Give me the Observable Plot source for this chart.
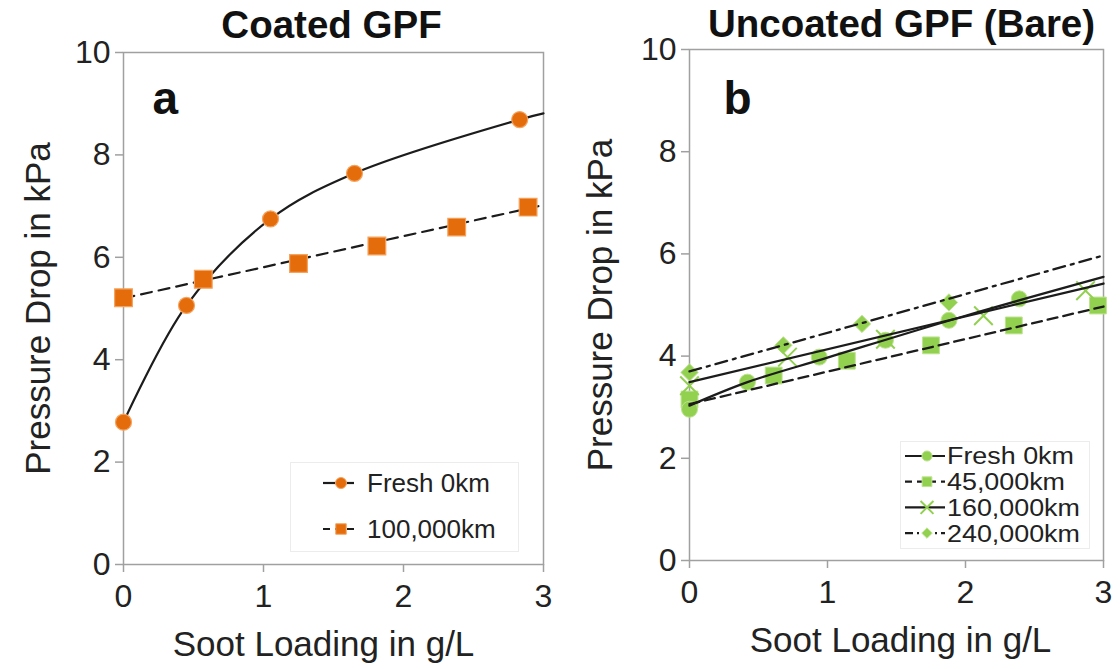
<!DOCTYPE html>
<html>
<head>
<meta charset="utf-8">
<script src="https://cdn.jsdelivr.net/npm/d3@7"></script>
<script src="https://cdn.jsdelivr.net/npm/@observablehq/plot@0.6"></script>
<style>
  body { margin: 0; background: #fff; }
  #wrap { position: relative; width: 1120px; height: 669px; overflow: hidden; font-family: "Liberation Sans", Arial, sans-serif; }
  .panel { position: absolute; top: 0; }
  .legend { position: absolute; }
</style>
</head>
<body>
<div id="wrap"></div>
<script>
// ---------- Data ----------
// Panel a: Coated GPF
const aFreshX = [0, 0.45, 1.05, 1.65, 2.83];
const aFreshY = [2.78, 5.06, 6.75, 7.64, 8.69];
const a100kX = [0, 0.57, 1.25, 1.81, 2.38, 2.89];
const a100kY = [5.21, 5.57, 5.88, 6.22, 6.59, 6.98];
// trend lines of panel a
const aFreshTrendX = [0, 0.45, 1.05, 1.65, 2.83, 3];
const aFreshTrendY = [2.78, 5.06, 6.75, 7.64, 8.69, 8.81];
const a100kTrendX = [0, 3];
const a100kTrendY = [5.2, 7.02];

// Panel b: Uncoated GPF (Bare)
const bFreshX = [0, 0.42, 0.94, 1.42, 1.88, 2.39];
const bFreshY = [2.96, 3.49, 3.98, 4.31, 4.70, 5.12];
const b45kX = [0, 0.61, 1.14, 1.75, 2.35, 2.96];
const b45kY = [3.15, 3.62, 3.91, 4.21, 4.60, 4.99];
const b160kX = [0, 0.71, 1.42, 2.13, 2.87];
const b160kY = [3.42, 3.98, 4.33, 4.79, 5.28];
const b240kX = [0, 0.68, 1.25, 1.88];
const b240kY = [3.68, 4.21, 4.63, 5.05];
// trend lines of panel b
const bFreshTrendX = [0, 0.42, 1, 2, 3];
const bFreshTrendY = [3.03, 3.49, 3.97, 4.79, 5.55];
const b45kTrendX = [0, 3];
const b45kTrendY = [3.06, 4.97];
const b160kTrendX = [0, 3];
const b160kTrendY = [3.49, 5.42];
const b240kTrendX = [0, 3];
const b240kTrendY = [3.70, 5.97];

const xTicks = [0, 1, 2, 3];
const yTicks = [0, 2, 4, 6, 8, 10];
const titles = ["Coated GPF", "Uncoated GPF (Bare)"];
const panelLetters = ["a", "b"];
const xLabel = "Soot Loading in g/L";
const yLabel = "Pressure Drop in kPa";
const legendA = ["Fresh 0km", "100,000km"];
const legendB = ["Fresh 0km", "45,000km", "160,000km", "240,000km"];

// ---------- Styles ----------
const FONT = '"Liberation Sans", Arial, sans-serif';
const ORANGE = "#E46C0A", ORANGE_EDGE = "#F5A35E";
const GREEN = "#92D050", GREEN_EDGE = "#BDE38F";
const INK = "#1c1c1c", AXIS = "#a0a0a0";

const zip = (xs, ys) => xs.map((x, i) => ({x, y: ys[i]}));

function basePanel({marginLeft, marginTop, marginBottom, title, letter, titleDx, titleDy, letterDx, letterDy, yLabelDx, xLabelDx, marks}) {
  return Plot.plot({
    width: 560, height: 669,
    marginLeft, marginRight: 17, marginTop, marginBottom,
    x: {domain: [0, 3]},
    y: {domain: [0, 10]},
    style: {fontFamily: FONT, fontSize: "32px", color: "#222", background: "transparent", overflow: "visible"},
    marks: [
      Plot.frame({stroke: AXIS, strokeWidth: 1.5}),
      Plot.axisY({ticks: yTicks, tickFormat: d => String(d), tickSize: 8, tickPadding: 5, stroke: AXIS, strokeWidth: 1.5, fill: "#222", label: null, fontSize: 32}),
      Plot.axisX({ticks: xTicks, tickFormat: d => String(d), tickSize: 8, tickPadding: 12, stroke: AXIS, strokeWidth: 1.5, fill: "#222", label: null, fontSize: 32}),
      Plot.text([yLabel], {frameAnchor: "left", textAnchor: "middle", dx: yLabelDx, rotate: -90, fontSize: 35, fill: "#222"}),
      Plot.text([xLabel], {frameAnchor: "bottom", textAnchor: "middle", dx: xLabelDx, dy: 91, fontSize: 35, fill: "#222"}),
      Plot.text([title], {frameAnchor: "top", textAnchor: "middle", dx: titleDx, dy: titleDy, fontSize: 38.5, fontWeight: "bold", fill: "#111"}),
      Plot.text([letter], {frameAnchor: "top-left", textAnchor: "start", dx: letterDx, dy: letterDy, fontSize: 46, fontWeight: "bold", fill: "#111"}),
      ...marks
    ]
  });
}

const wrap = document.getElementById("wrap");

// Panel a
const plotA = basePanel({
  marginLeft: 123, marginTop: 52, marginBottom: 105,
  title: titles[0], letter: panelLetters[0],
  titleDx: -2, titleDy: -42, letterDx: 29, letterDy: 29,
  yLabelDx: -85, xLabelDx: -10,
  marks: [
    Plot.line(zip(a100kTrendX, a100kTrendY), {x: "x", y: "y", stroke: INK, strokeWidth: 2.2, strokeDasharray: "11,7"}),
    Plot.line(zip(aFreshTrendX, aFreshTrendY), {x: "x", y: "y", stroke: INK, strokeWidth: 2.2, curve: "catmull-rom"}),
    Plot.dot(zip(a100kX, a100kY), {x: "x", y: "y", symbol: "square", r: 10, fill: ORANGE, stroke: ORANGE_EDGE, strokeWidth: 1.2}),
    Plot.dot(zip(aFreshX, aFreshY), {x: "x", y: "y", symbol: "circle", r: 8, fill: ORANGE, stroke: ORANGE_EDGE, strokeWidth: 1.2})
  ]
});
plotA.classList.add("panel");
plotA.style.left = "0px";
wrap.appendChild(plotA);

// Panel b
const plotB = basePanel({
  marginLeft: 129, marginTop: 49, marginBottom: 109,
  title: titles[1], letter: panelLetters[1],
  titleDx: 5, titleDy: -40, letterDx: 34, letterDy: 32,
  yLabelDx: -89, xLabelDx: 4,
  marks: [
    Plot.dot(zip(b45kX, b45kY), {x: "x", y: "y", symbol: "square", r: 9.5, fill: GREEN, stroke: GREEN_EDGE, strokeWidth: 1}),
    Plot.dot(zip(bFreshX, bFreshY), {x: "x", y: "y", symbol: "circle", r: 8, fill: GREEN, stroke: GREEN_EDGE, strokeWidth: 1}),
    Plot.dot(zip(b240kX, b240kY), {x: "x", y: "y", symbol: "diamond2", r: 7.8, fill: GREEN, stroke: GREEN_EDGE, strokeWidth: 1}),
    Plot.dot(zip(b160kX, b160kY), {x: "x", y: "y", symbol: "times", r: 8.5, stroke: GREEN, strokeWidth: 2}),
    Plot.line(zip(b240kTrendX, b240kTrendY), {x: "x", y: "y", stroke: INK, strokeWidth: 2.3, strokeDasharray: "12,6,3,6"}),
    Plot.line(zip(b45kTrendX, b45kTrendY), {x: "x", y: "y", stroke: INK, strokeWidth: 2.3, strokeDasharray: "10,6"}),
    Plot.line(zip(b160kTrendX, b160kTrendY), {x: "x", y: "y", stroke: INK, strokeWidth: 2.3}),
    Plot.line(zip(bFreshTrendX, bFreshTrendY), {x: "x", y: "y", stroke: INK, strokeWidth: 2.3, curve: "catmull-rom"})
  ]
});
plotB.classList.add("panel");
plotB.style.left = "560px";
wrap.appendChild(plotB);

// ---------- Legends ----------
function legend({left, top, width, height, items, rowStart, rowStep, lineX0, lineX1, markX, textX, fontSize, stretch}) {
  const svg = d3.select(wrap).append("svg")
    .attr("class", "legend")
    .style("left", left + "px").style("top", top + "px")
    .attr("width", width).attr("height", height)
    .style("font-family", FONT);
  svg.append("rect").attr("x", 0.5).attr("y", 0.5).attr("width", width - 1).attr("height", height - 1)
    .attr("fill", "#fff").attr("stroke", "#ececec");
  items.forEach((it, i) => {
    const y = rowStart + i * rowStep;
    svg.append("line").attr("x1", lineX0).attr("x2", lineX1).attr("y1", y).attr("y2", y)
      .attr("stroke", INK).attr("stroke-width", 2.2).attr("stroke-dasharray", it.dash || null);
    const path = d3.symbol(it.symbol, it.size)();
    const p = svg.append("path").attr("d", path).attr("transform", `translate(${markX},${y})`);
    if (it.hollow) p.attr("fill", "none").attr("stroke", it.color).attr("stroke-width", 2);
    else p.attr("fill", it.color).attr("stroke", it.edge).attr("stroke-width", 1);
    svg.append("text").attr("transform", `translate(${textX},${y}) scale(${stretch || 1},1)`).attr("dy", "0.35em")
      .attr("font-size", fontSize).attr("fill", "#222").text(it.label);
  });
}

legend({
  left: 290, top: 462, width: 229, height: 90,
  rowStart: 21, rowStep: 46, lineX0: 33, lineX1: 64, markX: 51, textX: 77, fontSize: 26,
  items: [
    {label: legendA[0], symbol: d3.symbolCircle, size: 95, color: ORANGE, edge: ORANGE_EDGE},
    {label: legendA[1], symbol: d3.symbolSquare, size: 110, color: ORANGE, edge: ORANGE_EDGE, dash: "7,5"}
  ]
});

legend({
  left: 900, top: 441, width: 190, height: 108,
  rowStart: 15, rowStep: 25.7, lineX0: 5, lineX1: 45, markX: 27, textX: 47, fontSize: 24, stretch: 1.12,
  items: [
    {label: legendB[0], symbol: d3.symbolCircle, size: 80, color: GREEN, edge: GREEN_EDGE},
    {label: legendB[1], symbol: d3.symbolSquare, size: 95, color: GREEN, edge: GREEN_EDGE, dash: "7,5"},
    {label: legendB[2], symbol: d3.symbolTimes, size: 110, color: GREEN, hollow: true},
    {label: legendB[3], symbol: d3.symbolDiamond2, size: 70, color: GREEN, edge: GREEN_EDGE, dash: "8,4,2,4"}
  ]
});
</script>
</body>
</html>
